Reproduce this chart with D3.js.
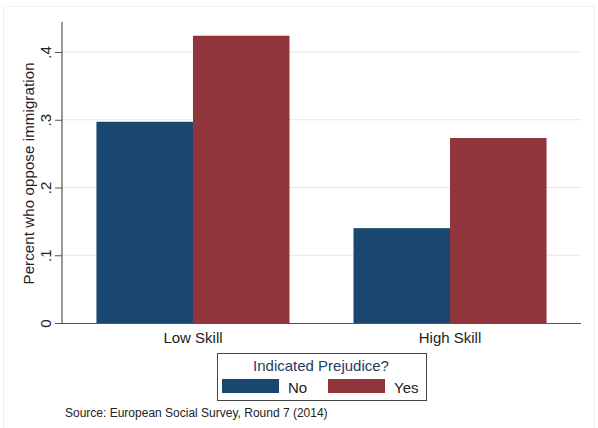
<!DOCTYPE html>
<html>
<head>
<meta charset="utf-8">
<script src="https://cdn.jsdelivr.net/npm/d3@7"></script>
<style>
  body { margin: 0; background: #fff; overflow: hidden; }
  svg { display: block; }
  text { font-family: "Liberation Sans", Arial, sans-serif; }
</style>
</head>
<body>
<svg width="598" height="428"></svg>
<script>
// chart data
const skills = ["Low Skill", "High Skill"];
const groups = ["No", "Yes"];
const noValues = [0.297, 0.140];
const yesValues = [0.424, 0.273];
const yTicks = [0, 0.1, 0.2, 0.3, 0.4];
const yTickLabels = ["0", ".1", ".2", ".3", ".4"];

const colors = { No: "#1a476f", Yes: "#90353b" };

let width = 598;
let height = 428;
let svg = d3.select("svg").attr("width", width).attr("height", height);

// faint outer frame
svg.append("rect")
  .attr("x", 3.5).attr("y", 6.5)
  .attr("width", 591).attr("height", 430)
  .attr("fill", "none")
  .attr("stroke", "#f0f0f0");

let plotLeft = 62, plotRight = 581, plotTop = 22, plotBottom = 323;

let yScale = d3.scaleLinear().domain([0, 0.4]).range([plotBottom, 52]);

let xScale = d3.scaleBand().domain(skills).range([plotLeft, plotRight]).paddingInner(0.249).paddingOuter(0.134);
let xInner = d3.scaleBand().domain(groups).range([0, xScale.bandwidth()]);

// gridlines
svg.append("g")
  .selectAll("line")
  .data(yTicks.slice(1))
  .enter()
  .append("line")
  .attr("x1", plotLeft).attr("x2", plotRight)
  .attr("y1", d => yScale(d)).attr("y2", d => yScale(d))
  .attr("stroke", "#e6e6e6")
  .attr("stroke-width", 1);

// bars
let rows = [];
skills.forEach((s, i) => {
  rows.push({ skill: s, group: "No", value: noValues[i] });
  rows.push({ skill: s, group: "Yes", value: yesValues[i] });
});

svg.append("g")
  .selectAll("rect")
  .data(rows)
  .enter()
  .append("rect")
  .attr("x", d => xScale(d.skill) + xInner(d.group))
  .attr("y", d => yScale(d.value))
  .attr("width", xInner.bandwidth())
  .attr("height", d => yScale(0) - yScale(d.value))
  .attr("fill", d => colors[d.group]);

// y axis
let yAxis = d3.axisLeft(yScale)
  .tickValues(yTicks)
  .tickFormat((d, i) => yTickLabels[i])
  .tickSize(7)
  .tickPadding(4);

let yg = svg.append("g")
  .attr("transform", "translate(" + plotLeft + ",0)")
  .call(yAxis);
yg.select(".domain").remove();
yg.selectAll(".tick line").attr("stroke", "#555");
yg.selectAll(".tick text")
  .attr("transform", "rotate(-90,-11,0)")
  .attr("x", -11)
  .attr("y", 0)
  .attr("dy", "0")
  .attr("text-anchor", "middle")
  .attr("font-size", 15)
  .attr("fill", "#222");

svg.append("line")
  .attr("x1", plotLeft).attr("x2", plotLeft)
  .attr("y1", plotTop).attr("y2", plotBottom + 0.5)
  .attr("stroke", "#555").attr("stroke-width", 1.2);

svg.append("line")
  .attr("x1", plotLeft).attr("x2", plotRight)
  .attr("y1", plotBottom + 0.5).attr("y2", plotBottom + 0.5)
  .attr("stroke", "#555").attr("stroke-width", 1.2);

// x labels
svg.append("g")
  .selectAll("text")
  .data(skills)
  .enter()
  .append("text")
  .attr("x", d => xScale(d) + xScale.bandwidth() / 2)
  .attr("y", 343)
  .attr("text-anchor", "middle")
  .attr("font-size", 15)
  .attr("fill", "#222")
  .text(d => d);

// y title
svg.append("text")
  .attr("transform", "translate(34,173.5) rotate(-90)")
  .attr("text-anchor", "middle")
  .attr("font-size", 15)
  .attr("fill", "#222")
  .attr("textLength", 222)
  .attr("lengthAdjust", "spacing")
  .text("Percent who oppose immigration");

// legend
let legend = svg.append("g");
legend.append("rect")
  .attr("x", 217.5).attr("y", 353.5)
  .attr("width", 209).attr("height", 47)
  .attr("fill", "#fff")
  .attr("stroke", "#444");

legend.append("text")
  .attr("x", 321).attr("y", 371)
  .attr("text-anchor", "middle")
  .attr("font-size", 15)
  .attr("fill", "#1f3d5e")
  .text("Indicated Prejudice?");

let legendX = d3.scaleOrdinal().domain(groups).range([222, 328]);
groups.forEach(g => {
  legend.append("rect")
    .attr("x", legendX(g)).attr("y", 379)
    .attr("width", 57).attr("height", 14)
    .attr("fill", colors[g]);
  legend.append("text")
    .attr("x", legendX(g) + 66).attr("y", 393)
    .attr("font-size", 15)
    .attr("fill", "#222")
    .text(g);
});

// source note
svg.append("text")
  .attr("x", 65).attr("y", 417)
  .attr("font-size", 12)
  .attr("fill", "#222")
  .text("Source: European Social Survey, Round 7 (2014)");
</script>
</body>
</html>
